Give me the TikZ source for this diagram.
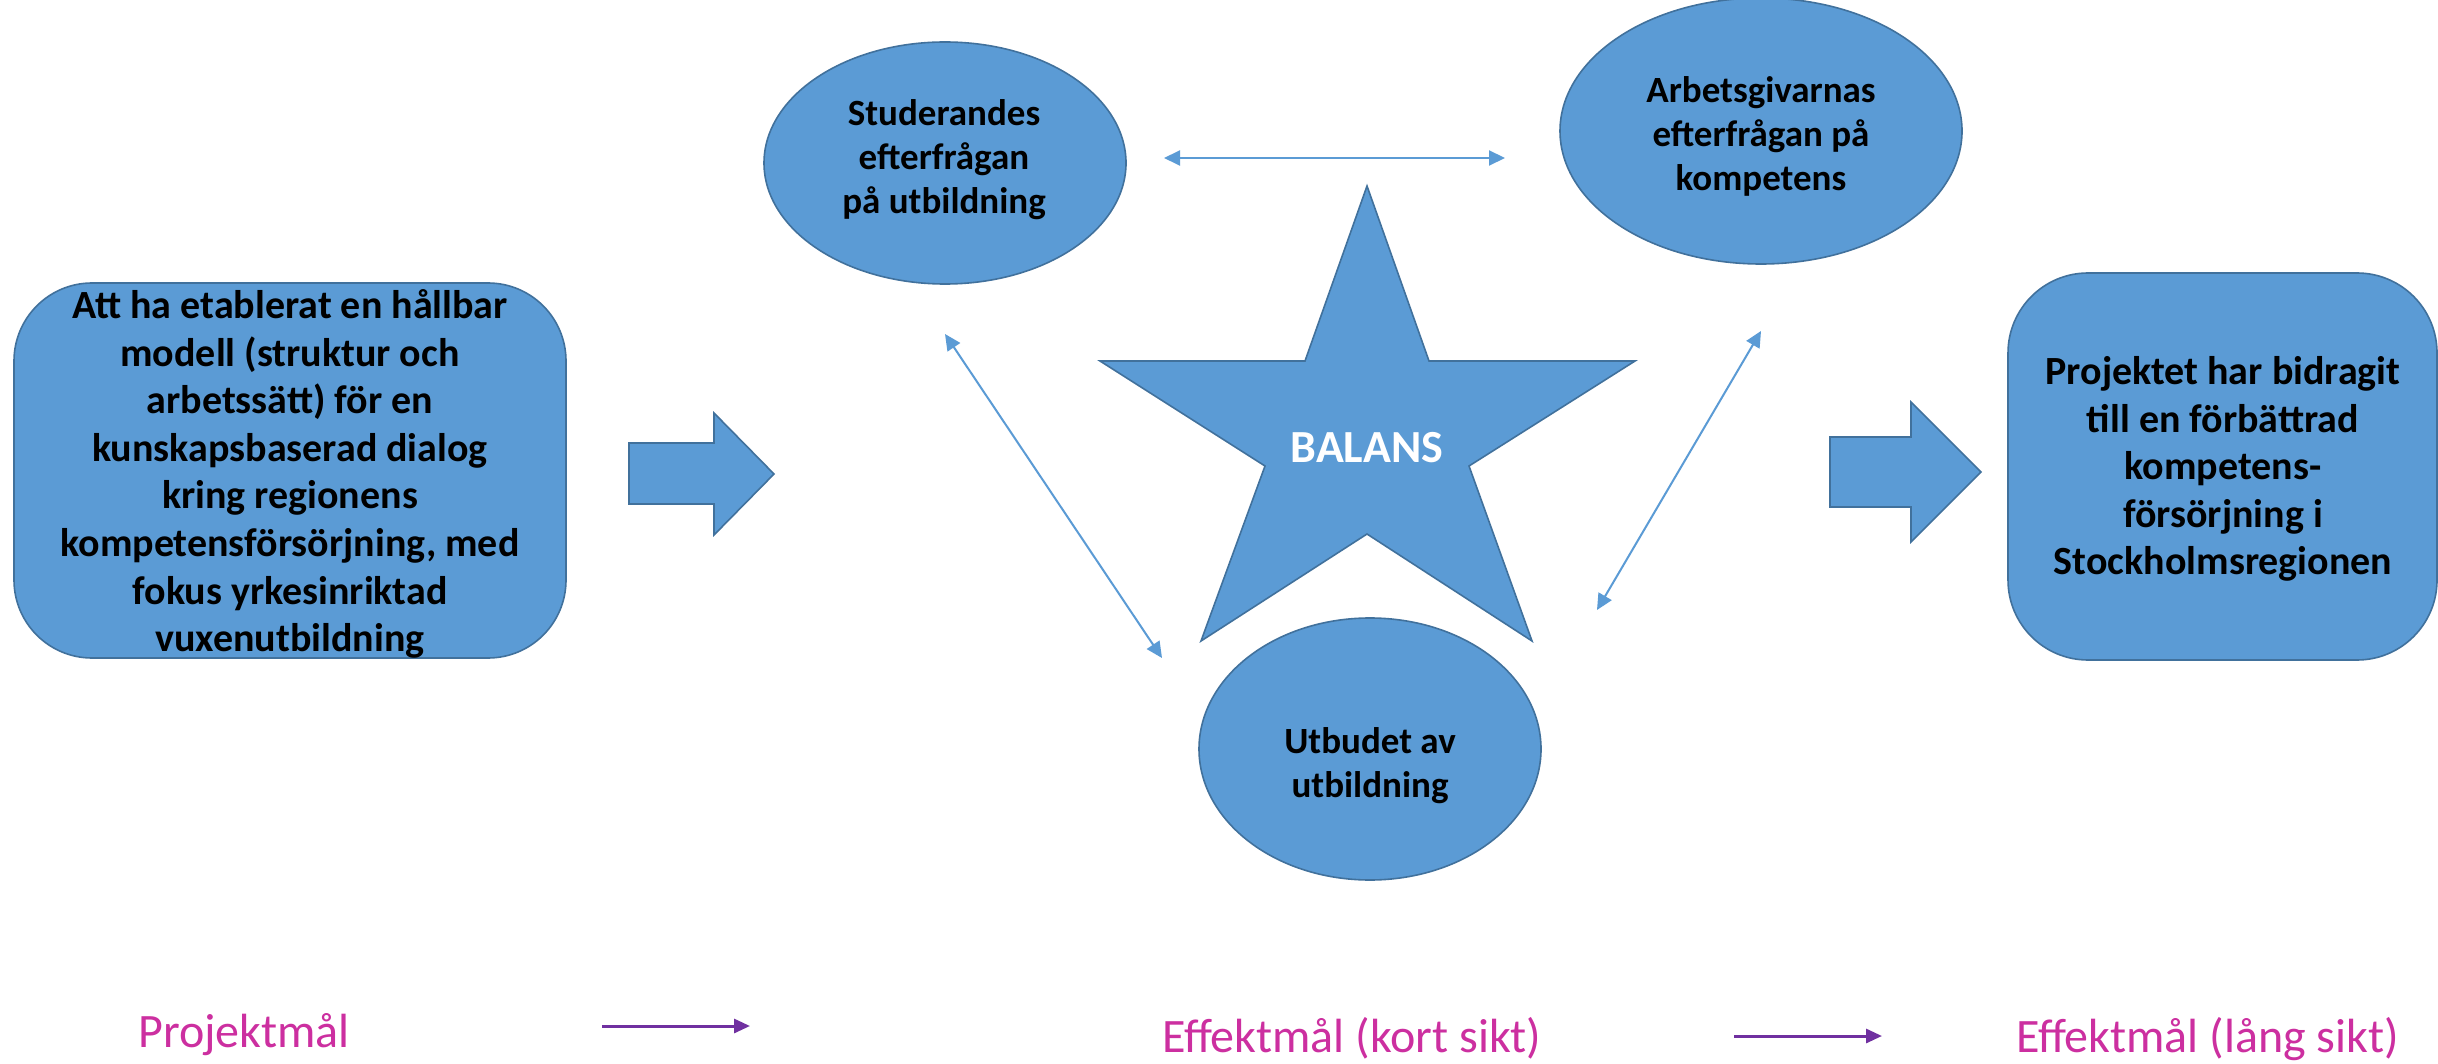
\documentclass[tikz,border=0pt]{standalone}
\usepackage{fontspec}
\setmainfont{Carlito}
\usetikzlibrary{shapes.geometric,arrows.meta}
\definecolor{fillblue}{HTML}{5B9BD5}
\definecolor{edgeblue}{HTML}{41719C}
\definecolor{magtext}{HTML}{CC2FA0}
\definecolor{purparrow}{HTML}{7030A0}
\begin{document}
\begin{tikzpicture}[x=1pt,y=-1pt,
  bluefill/.style={draw=edgeblue,fill=fillblue,line width=1.6pt},
  goalbox/.style={bluefill,rectangle,rounded corners=78pt,inner sep=0pt},
  goaltext/.style={align=center,inner sep=0pt,font=\fontsize{40}{47.6}\selectfont\bfseries},
  ellip/.style={bluefill,ellipse,inner sep=0pt},
  etext/.style={align=center,inner sep=0pt,font=\fontsize{37}{44}\selectfont\bfseries},
  bottomtext/.style={text=magtext,inner sep=0pt,anchor=base west,font=\fontsize{48}{56}\selectfont},
  linkarrow/.style={draw=fillblue,line width=2pt,{Triangle[length=16pt,width=15pt]}-{Triangle[length=16pt,width=15pt]}},
  flowarrow/.style={draw=purparrow,line width=3pt,-{Triangle[length=16pt,width=14pt]}}]
\useasboundingbox (0,0) rectangle (2438,1064);
\fill[white] (0,0) rectangle (2438,1064);

% left and right boxes
\node[goalbox,minimum width=552pt,minimum height=375pt] (proj) at (290,470.5) {};
\node[goaltext] (projtext) at (290,474)
  {Att ha etablerat en hållbar\\modell (struktur och\\arbetssätt) för en\\kunskapsbaserad dialog\\kring regionens\\kompetensförsörjning, med\\fokus yrkesinriktad\\vuxenutbildning};
\node[goalbox,minimum width=429pt,minimum height=387pt,rounded corners=80pt] (lang) at (2222.5,466.5) {};
\node[goaltext] (langtext) at (2223,469)
  {Projektet har bidragit\\till en förbättrad\\kompetens-\\försörjning i\\Stockholmsregionen};

% block arrows
\draw[bluefill] (629,443) -- (714,443) -- (714,413) -- (774,474) -- (714,535) -- (714,504) -- (629,504) -- cycle;
\draw[bluefill] (1830,437) -- (1911,437) -- (1911,402) -- (1981,472) -- (1911,542) -- (1911,507) -- (1830,507) -- cycle;

% ellipses
\node[ellip,minimum width=362pt,minimum height=242pt] (stud) at (945,163) {};
\node[etext] (studtext) at (944,160) {Studerandes\\efterfrågan\\på utbildning};
\node[ellip,minimum width=402pt,minimum height=266pt] (arb) at (1761,131) {};
\node[etext] (arbtext) at (1761,136) {Arbetsgivarnas\\efterfrågan på\\kompetens};
\node[ellip,minimum width=342pt,minimum height=262pt] (utb) at (1370,749) {};
\node[etext] (utbtext) at (1370,766) {Utbudet av\\utbildning};

% star
\draw[bluefill] (1367,186) -- (1429,361) -- (1635,361) -- (1469,466) -- (1532,641)
  -- (1367,534) -- (1201,641) -- (1265,466) -- (1100,361) -- (1305,361) -- cycle;
\node[text=white,font=\fontsize{46}{52}\selectfont\bfseries,inner sep=0pt] (balans) at (1367,448) {BALANS};

% double-headed links
\coordinate (t1) at (1164,158);
\coordinate (t2) at (1505,158);
\coordinate (l1) at (945,334);
\coordinate (l2) at (1162,658);
\coordinate (r1) at (1761,331);
\coordinate (r2) at (1597,610);
\draw[linkarrow] (t1) -- (t2);
\draw[linkarrow] (l1) -- (l2);
\draw[linkarrow] (r1) -- (r2);

% bottom legend
\node[bottomtext] (pm) at (138,1047) {Projektmål};
\node[bottomtext] (ek) at (1162,1052) {Effektmål (kort sikt)};
\node[bottomtext] (el) at (2016,1052) {Effektmål (lång sikt)};
\coordinate (a1s) at (602,1026);
\coordinate (a1e) at (750,1026);
\coordinate (a2s) at (1734,1036);
\coordinate (a2e) at (1882,1036);
\draw[flowarrow] (a1s) -- (a1e);
\draw[flowarrow] (a2s) -- (a2e);
\end{tikzpicture}
\end{document}
